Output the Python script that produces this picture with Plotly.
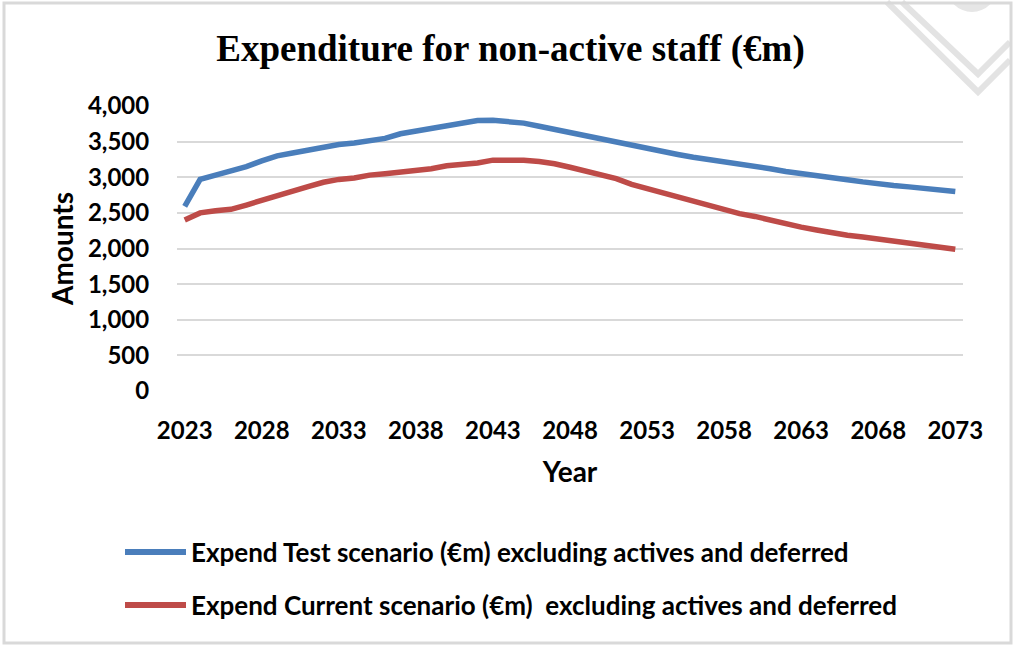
import plotly.graph_objects as go

years = list(range(2023, 2074))
test_name = "Expend Test scenario (€m) excluding actives and deferred"
current_name = "Expend Current scenario (€m)  excluding actives and deferred"
test_values = [2590, 2970, 3030, 3090, 3150, 3230, 3300, 3340, 3380, 3420,
               3460, 3480, 3520, 3545, 3610, 3650, 3690, 3730, 3770, 3795,
               3800, 3785, 3760, 3715, 3670, 3620, 3580, 3530, 3480, 3440,
               3400, 3360, 3320, 3280, 3250, 3220, 3180, 3150, 3120, 3080,
               3055, 3020, 2990, 2965, 2935, 2905, 2885, 2865, 2840, 2820, 2800]
current_values = [2400, 2500, 2530, 2550, 2610, 2680, 2750, 2810, 2870, 2930,
                  2970, 2990, 3030, 3050, 3070, 3100, 3120, 3160, 3180, 3200,
                  3240, 3245, 3240, 3220, 3190, 3140, 3080, 3020, 2980, 2900,
                  2840, 2780, 2720, 2650, 2600, 2550, 2490, 2450, 2400, 2340,
                  2300, 2260, 2220, 2185, 2160, 2130, 2100, 2065, 2040, 2015, 1990]
x_ticks = list(range(2023, 2074, 5))
y_ticks = list(range(0, 4001, 500))

W, H = 1014, 646
L, R, T, B = 177, 51, 106, 255
PW, PH = W - L - R, H - T - B

def px(x):
    return (x - L) / PW

def py(y):
    return (H - B - y) / PH

BLUE = "#4A7EBB"
RED = "#BE4B48"
GRID = "#D9D9D9"
SANS = "Lato, Open Sans, sans-serif"

fig = go.Figure()
series = [(test_name, test_values, BLUE), (current_name, current_values, RED)]
for name, vals, col in series:
    fig.add_trace(go.Scatter(x=years, y=vals, mode="lines", name=name,
                             line=dict(color=col, width=5.5), showlegend=False))

shapes = []
annotations = []
# legend drawn below the plot
for i, (name, vals, col) in enumerate(series):
    yy = 552 + i * 53
    shapes.append(dict(type="line", xref="paper", yref="paper",
                       x0=px(125), x1=px(186), y0=py(yy), y1=py(yy),
                       line=dict(color=col, width=6)))
    annotations.append(dict(xref="paper", yref="paper", x=px(189), y=py(yy),
                            text=name, showarrow=False, xanchor="left",
                            yanchor="middle",
                            font=dict(family=SANS, size=26, color="black",
                                      weight="bold")))

# decorations top-right
shapes.append(dict(type="circle", xref="paper", yref="paper",
                   x0=px(947), x1=px(997), y0=py(12), y1=py(-38),
                   fillcolor="#E6E6E6", line=dict(width=0), layer="below"))
shapes.append(dict(type="rect", xref="paper", yref="paper",
                   x0=px(900), x1=px(1014), y0=py(2), y1=py(-40),
                   fillcolor="white", line=dict(width=0), layer="below"))
for pts in ([(887, 2), (978, 92), (1010, 60)], [(902, 2), (978, 74), (1010, 42)]):
    d = "M " + " L ".join(f"{px(a)},{py(b)}" for a, b in pts)
    shapes.append(dict(type="path", xref="paper", yref="paper", path=d,
                       line=dict(color="#E3E3E3", width=6), layer="below"))
# border
shapes.append(dict(type="rect", xref="paper", yref="paper",
                   x0=px(4), x1=px(1011), y0=py(643), y1=py(3),
                   line=dict(color=GRID, width=3), layer="below"))

fig.update_layout(
    width=W, height=H,
    margin=dict(l=L, r=R, t=T, b=B, pad=0),
    paper_bgcolor="white", plot_bgcolor="white",
    title=dict(text="Expenditure for non-active staff (€m)",
               x=510.5 / W, xanchor="center",
               y=1 - 48 / H, yanchor="middle",
               font=dict(family="Liberation Serif, Times New Roman, serif",
                         size=37, color="black", weight="bold")),
    xaxis=dict(range=[2022.5, 2073.5], tickvals=x_ticks, showgrid=False,
               zeroline=False, showline=False, ticks="outside", ticklen=18,
               tickcolor="rgba(0,0,0,0)",
               tickfont=dict(family=SANS, size=24, color="black", weight="bold"),
               title=dict(text="Year", standoff=19,
                          font=dict(family=SANS, size=28, color="black",
                                    weight="bold"))),
    yaxis=dict(range=[0, 4000], tickvals=y_ticks, tickformat=",",
               showgrid=True, gridcolor=GRID, gridwidth=2, zeroline=False,
               showline=False, ticks="outside", ticklen=22,
               tickcolor="rgba(0,0,0,0)",
               tickfont=dict(family=SANS, size=24, color="black", weight="bold"),
               title=dict(text="Amounts", standoff=6,
                          font=dict(family=SANS, size=28, color="black",
                                    weight="bold"))),
    shapes=shapes, annotations=annotations,
)

fig.write_html("out.html",
               config={"displayModeBar": False},
               post_script="document.body.style.margin='0';"
                           "document.body.style.overflow='hidden';")
